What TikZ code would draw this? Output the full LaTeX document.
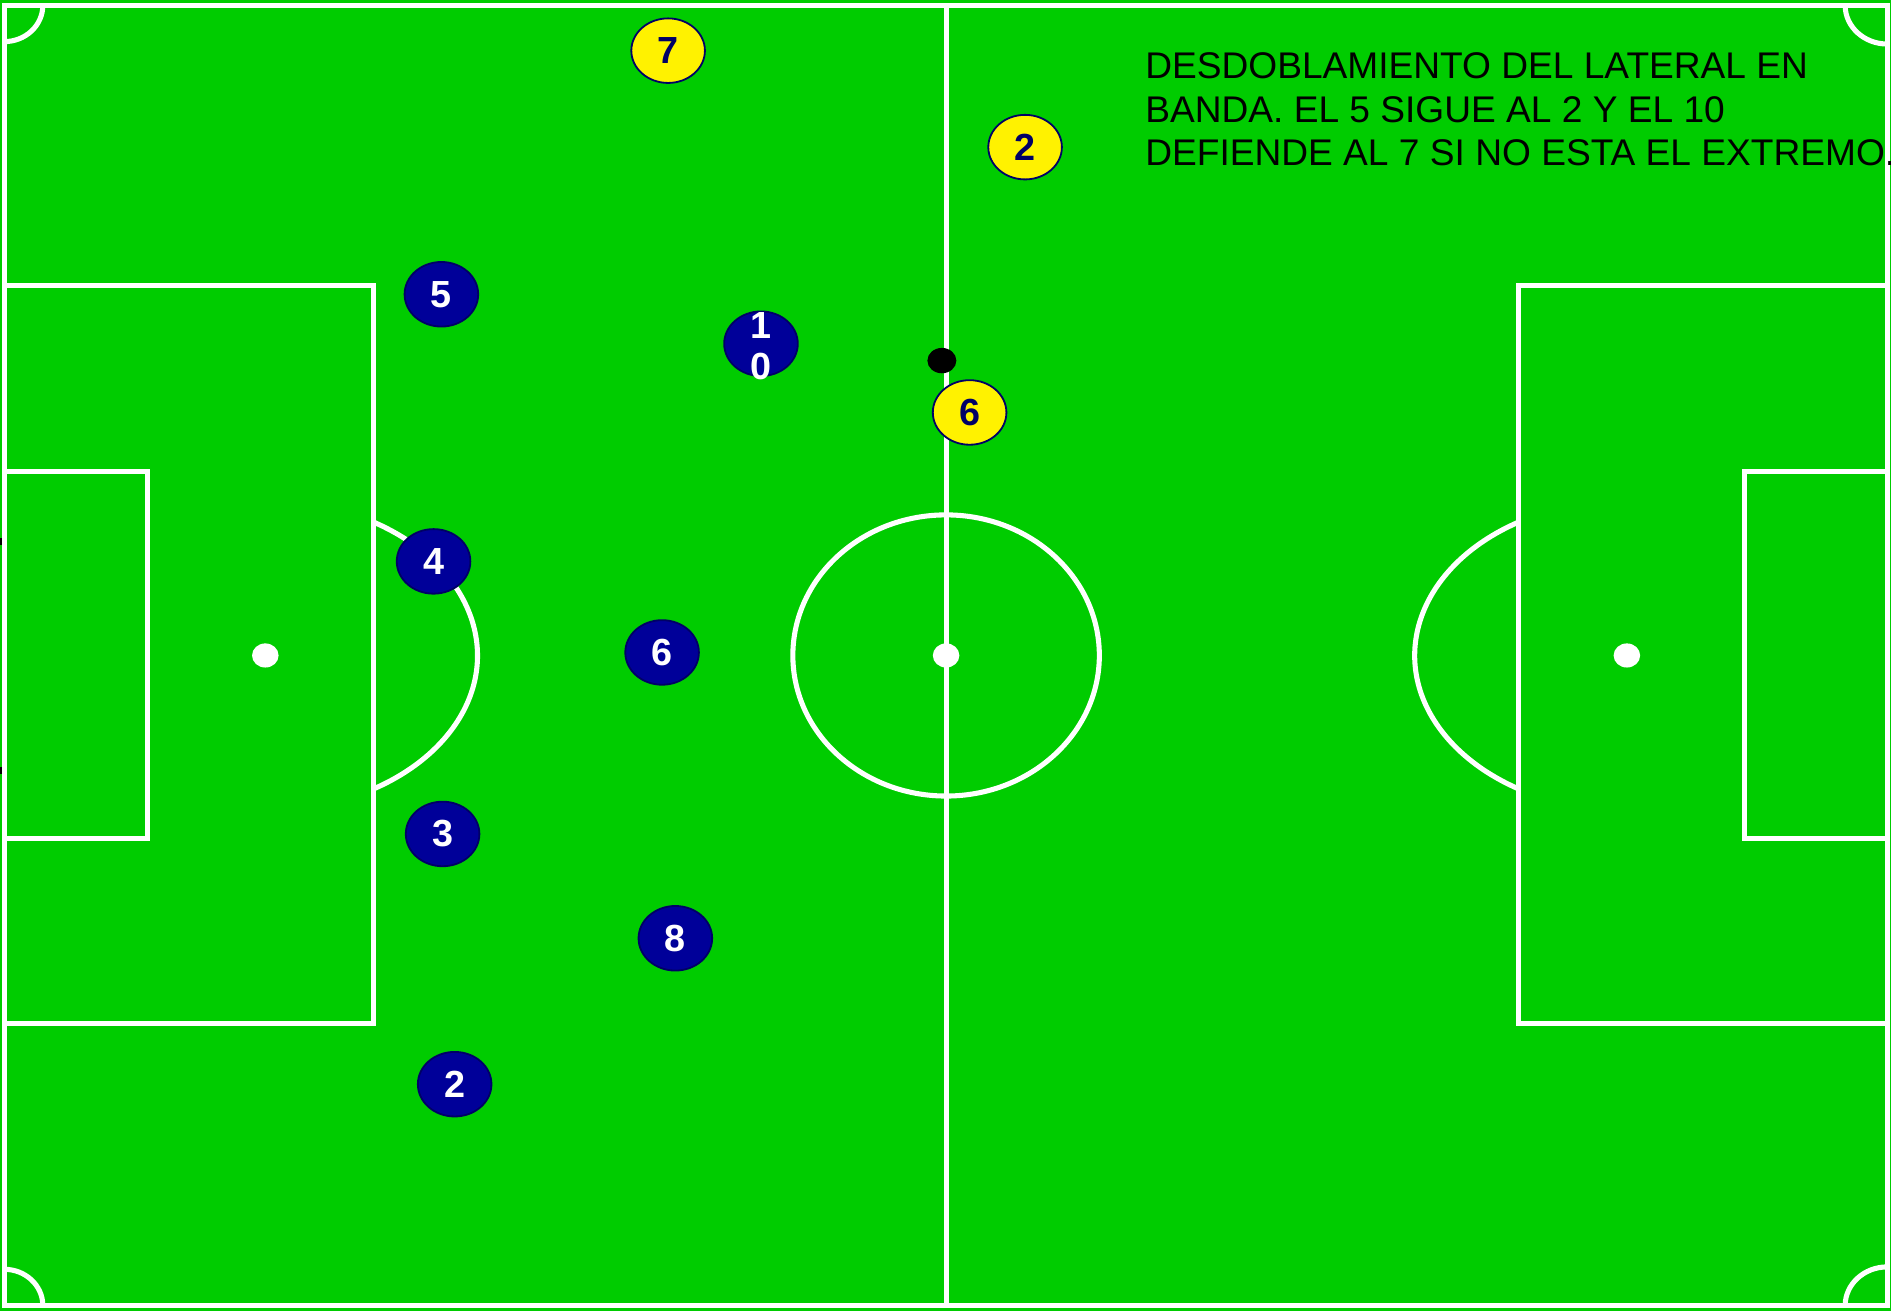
\documentclass[tikz,border=0pt]{standalone}
\usepackage{fontspec}
\setmainfont{Liberation Sans}
\usepackage{tikz}
\usetikzlibrary{shapes.geometric,positioning}
\definecolor{grass}{HTML}{00CC00}
\definecolor{teamblue}{HTML}{000099}
\definecolor{navy}{HTML}{000066}

\begin{document}
\begin{tikzpicture}[
    x=0.01cm, y=-0.01cm,
    line/.style={draw=white, line width=0.42mm},
    spot/.style={ellipse, fill=white, minimum width=2.2mm, minimum height=2mm, inner sep=0},
    numtext/.style={font=\fontsize{8.9}{9.7}\selectfont\bfseries},
    player/.style={ellipse, minimum width=6.1mm, minimum height=5.35mm, inner sep=0, line width=0.15mm, numtext},
    homeplayer/.style={player, fill=teamblue, draw=navy, text=white},
    awayplayer/.style={player, fill=yellow, draw=navy, text=navy},
    ball/.style={ellipse, fill=black, minimum width=2.4mm, minimum height=2.1mm, inner sep=0},
    note/.style={anchor=north west, inner sep=0, align=left, font=\fontsize{8.75}{10.3}\selectfont}]
\useasboundingbox[fill=grass] (0,0) rectangle (1568,1087);

\draw[line] (3.5,4.5) rectangle (1565,1082.5);
\draw[line] (784.5,4.5) -- (784.5,1082.5);
\draw[line] (784.5,543.5) ellipse [x radius=12.7mm, y radius=11.65mm];
\draw[line] (3.5,237) rectangle (310,849);
\draw[line] (3.5,391) rectangle (122.5,695);
\draw[line] (1259,237) rectangle (1565,849);
\draw[line] (1446.5,391) rectangle (1565,695);
\draw[line] (310,433) arc[start angle=59.2, end angle=-59.2, x radius=1.76cm, y radius=1.286cm];
\draw[line] (1259,433) arc[start angle=120.8, end angle=239.2, x radius=1.76cm, y radius=1.286cm];
\draw[line] (35.5,4.5) arc[start angle=0, end angle=-90, x radius=3.2mm, y radius=3mm];
\draw[line] (1530,4.5) arc[start angle=180, end angle=270, x radius=3.5mm, y radius=3.2mm];
\draw[line] (35.5,1082.5) arc[start angle=0, end angle=90, x radius=3.2mm, y radius=3mm];
\draw[line] (1530,1082.5) arc[start angle=180, end angle=90, x radius=3.5mm, y radius=3.2mm];
\fill (0,446) rectangle (1.5,452);
\fill (0,636) rectangle (1.5,642);

\node[spot] (spotL) at (220,543.5) {};
\node[spot] (spotC) at (784.5,543.5) {};
\node[spot] (spotR) at (1349,543.5) {};

\node[awayplayer] (Y7) at (554,42) {7};
\node[awayplayer] (Y2) at (850,122) {2};
\node[awayplayer] (Y6) at (804,342) {6};
\node[ball] (ball) at (781,299) {};

\node[homeplayer] (B5) at (366,244) {5};
\node[homeplayer] (B10) at (631,285) {};
\node[numtext, text=white, align=center, inner sep=0] (B10num) at ([yshift=-0.2mm]B10.center) {1\\0};
\node[homeplayer] (B4) at (359.5,465.5) {4};
\node[homeplayer] (B6) at (549,541) {6};
\node[homeplayer] (B3) at (367,691.5) {3};
\node[homeplayer] (B8) at (560,778) {8};
\node[homeplayer] (B2) at (377,899) {2};

\node[note] (text) at (949,43) {DESDOBLAMIENTO DEL LATERAL EN\\BANDA. EL 5 SIGUE AL 2 Y EL 10\\DEFIENDE AL 7 SI NO ESTA EL EXTREMO.};
\end{tikzpicture}
\end{document}
